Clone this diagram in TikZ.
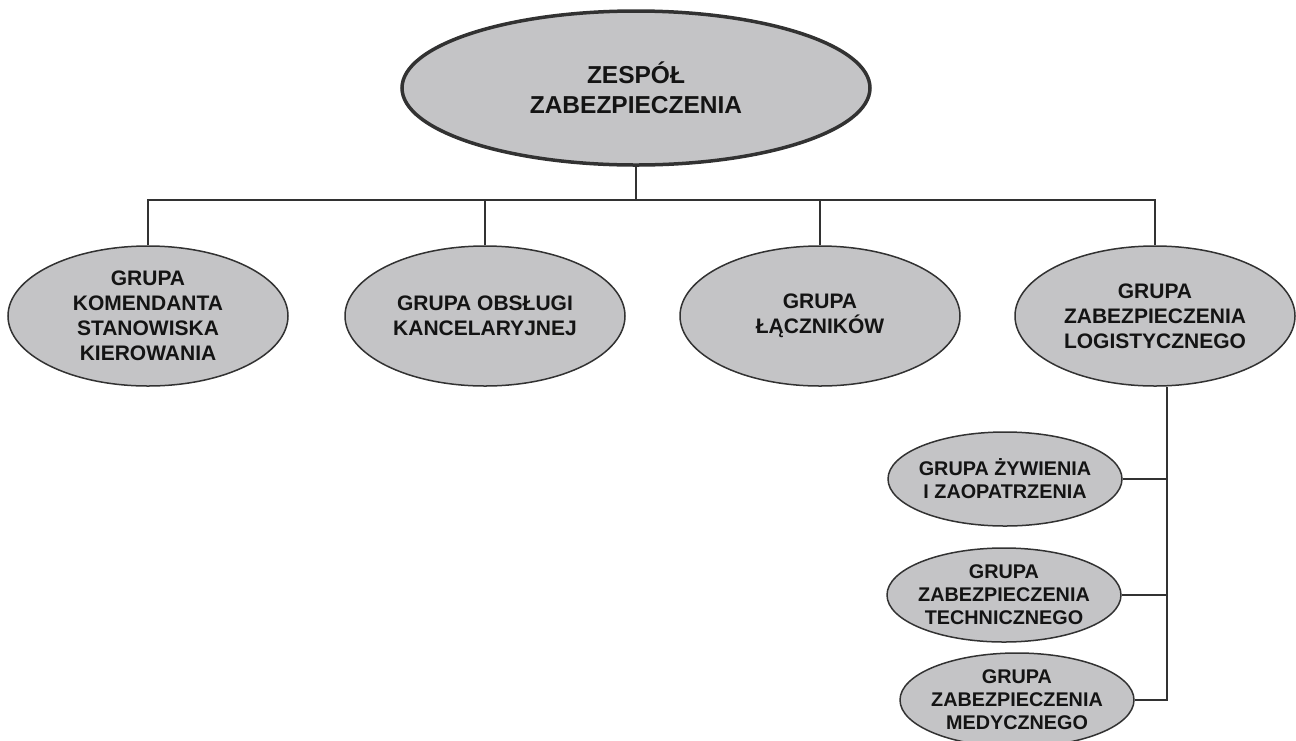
\documentclass[tikz,border=0pt]{standalone}
\usepackage{fontspec}
\setmainfont{Liberation Sans}
\usepackage{xcolor}
\usetikzlibrary{shapes.geometric}
\definecolor{ovalgray}{RGB}{196,196,198}
\definecolor{linegray}{RGB}{50,50,50}
\tikzset{
  oval/.style={ellipse, draw=linegray, fill=ovalgray, line width=1.5pt, inner sep=-6pt, align=center, text=black!92, font=\bfseries\fontsize{21}{25}\selectfont},
  bigoval/.style={oval, line width=3.5pt, minimum width=468pt, minimum height=154pt, font=\bfseries\fontsize{24.5}{30}\selectfont},
  grupa/.style={oval, minimum width=280pt, minimum height=140pt},
  podgrupa/.style={oval, minimum width=234pt, minimum height=94pt, font=\bfseries\fontsize{19.8}{23}\selectfont},
  conn/.style={draw=linegray, line width=2pt}
}
\begin{document}
\begin{tikzpicture}[x=1pt,y=-1pt]
\useasboundingbox (0,0) rectangle (1296,740);

\node [bigoval] (zespol) at (636,88) {ZESPÓŁ\\ZABEZPIECZENIA};

\node [grupa] (g1) at (148,316) {GRUPA\\KOMENDANTA\\STANOWISKA\\KIEROWANIA};
\node [grupa] (g2) at (485,316) {GRUPA OBSŁUGI\\KANCELARYJNEJ};
\node [grupa] (g3) at (820,316) {GRUPA\\ŁĄCZNIKÓW};
\node [grupa] (g4) at (1155,316) {GRUPA\\ZABEZPIECZENIA\\LOGISTYCZNEGO};

\node [podgrupa] (s1) at (1005,479) {GRUPA ŻYWIENIA\\I ZAOPATRZENIA};
\node [podgrupa] (s2) at (1004,595) {GRUPA\\ZABEZPIECZENIA\\TECHNICZNEGO};
\node [podgrupa] (s3) at (1017,700) {GRUPA\\ZABEZPIECZENIA\\MEDYCZNEGO};

\coordinate (bus) at (636,200);
\coordinate (trunk) at (1167,700);

\draw [conn] (zespol.south) -- (bus);
\draw [conn] (g1.north) |- (bus) -| (g4.north);
\draw [conn] (g2.north) -- (g2.north |- bus);
\draw [conn] (g3.north) -- (g3.north |- bus);

\draw [conn] (g4.south -| trunk) -- (trunk) -- (s3.east);
\draw [conn] (s1.east) -- (s1.east -| trunk);
\draw [conn] (s2.east) -- (s2.east -| trunk);

\end{tikzpicture}
\end{document}
